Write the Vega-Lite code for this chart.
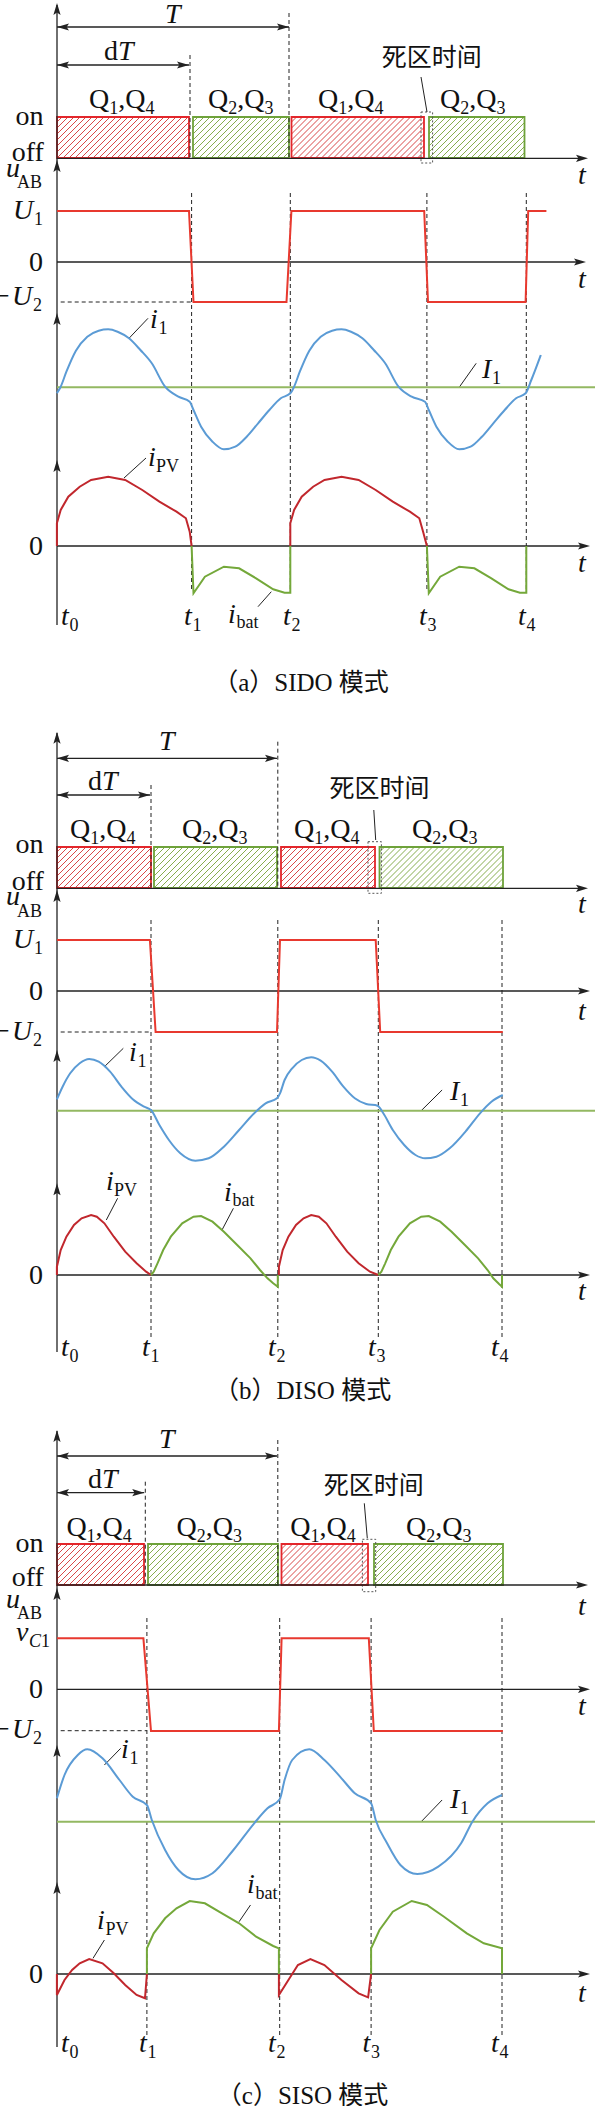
{
"$schema":"https://vega.github.io/schema/vega-lite/v6.json",
"width":595,"height":2106,"autosize":{"type":"none"},"padding":0,"background":"white",
"config":{"view":{"stroke":null}},
"encoding":{
"x":{"field":"x","type":"quantitative","scale":{"domain":[0,595],"nice":false,"zero":false},"axis":null},
"y":{"field":"y","type":"quantitative","scale":{"domain":[0,2106],"nice":false,"zero":false,"reverse":true},"axis":null}},
"datasets":{
"h1":[{"x":77.5,"y":137.5},{"x":83.5,"y":137.5},{"x":89.5,"y":137.5},{"x":95.5,"y":137.5},{"x":101.5,"y":137.5},{"x":107.5,"y":137.5},{"x":113.5,"y":137.5},{"x":119.5,"y":137.5},{"x":125.5,"y":137.5},{"x":131.5,"y":137.5},{"x":137.5,"y":137.5},{"x":143.5,"y":137.5},{"x":149.5,"y":137.5},{"x":155.5,"y":137.5},{"x":161.5,"y":137.5},{"x":167.5,"y":137.5},{"x":173.5,"y":137.5},{"x":179.5,"y":137.5},{"x":185.5,"y":137.5},{"x":191.5,"y":137.5},{"x":197.5,"y":137.5},{"x":203.5,"y":137.5},
{"x":77.5,"y":867.5},{"x":83.5,"y":867.5},{"x":89.5,"y":867.5},{"x":95.5,"y":867.5},{"x":101.5,"y":867.5},{"x":107.5,"y":867.5},{"x":113.5,"y":867.5},{"x":119.5,"y":867.5},{"x":125.5,"y":867.5},{"x":131.5,"y":867.5},{"x":137.5,"y":867.5},{"x":143.5,"y":867.5},{"x":149.5,"y":867.5},{"x":155.5,"y":867.5},{"x":161.5,"y":867.5},{"x":167.5,"y":867.5},
{"x":77.5,"y":1564.5},{"x":83.5,"y":1564.5},{"x":89.5,"y":1564.5},{"x":95.5,"y":1564.5},{"x":101.5,"y":1564.5},{"x":107.5,"y":1564.5},{"x":113.5,"y":1564.5},{"x":119.5,"y":1564.5},{"x":125.5,"y":1564.5},{"x":131.5,"y":1564.5},{"x":137.5,"y":1564.5},{"x":143.5,"y":1564.5},{"x":149.5,"y":1564.5},{"x":155.5,"y":1564.5},{"x":161.5,"y":1564.5}],
"p1":[{"x":57,"y":152,"x2":92,"y2":117},{"x":57,"y":146,"x2":86,"y2":117},{"x":57,"y":140,"x2":80,"y2":117},{"x":57,"y":134,"x2":74,"y2":117},{"x":57,"y":128,"x2":68,"y2":117},{"x":57,"y":122,"x2":62,"y2":117},
{"x":57,"y":882,"x2":92,"y2":847},{"x":57,"y":876,"x2":86,"y2":847},{"x":57,"y":870,"x2":80,"y2":847},{"x":57,"y":864,"x2":74,"y2":847},{"x":57,"y":858,"x2":68,"y2":847},{"x":57,"y":852,"x2":62,"y2":847},
{"x":57,"y":1579,"x2":92,"y2":1544},{"x":57,"y":1573,"x2":86,"y2":1544},{"x":57,"y":1567,"x2":80,"y2":1544},{"x":57,"y":1561,"x2":74,"y2":1544},{"x":57,"y":1555,"x2":68,"y2":1544},{"x":57,"y":1549,"x2":62,"y2":1544}],
"m1":[{"x":189,"x2":600,"y":116,"y2":159},{"x":151,"x2":600,"y":846,"y2":889},{"x":144,"x2":600,"y":1543,"y2":1586}],
"h2":[{"x":213.5,"y":137.5},{"x":219.5,"y":137.5},{"x":225.5,"y":137.5},{"x":231.5,"y":137.5},{"x":237.5,"y":137.5},{"x":243.5,"y":137.5},{"x":249.5,"y":137.5},{"x":255.5,"y":137.5},{"x":261.5,"y":137.5},{"x":267.5,"y":137.5},{"x":273.5,"y":137.5},{"x":279.5,"y":137.5},{"x":285.5,"y":137.5},{"x":291.5,"y":137.5},{"x":297.5,"y":137.5},{"x":303.5,"y":137.5},
{"x":174.5,"y":867.5},{"x":180.5,"y":867.5},{"x":186.5,"y":867.5},{"x":192.5,"y":867.5},{"x":198.5,"y":867.5},{"x":204.5,"y":867.5},{"x":210.5,"y":867.5},{"x":216.5,"y":867.5},{"x":222.5,"y":867.5},{"x":228.5,"y":867.5},{"x":234.5,"y":867.5},{"x":240.5,"y":867.5},{"x":246.5,"y":867.5},{"x":252.5,"y":867.5},{"x":258.5,"y":867.5},{"x":264.5,"y":867.5},{"x":270.5,"y":867.5},{"x":276.5,"y":867.5},{"x":282.5,"y":867.5},{"x":288.5,"y":867.5},{"x":294.5,"y":867.5},
{"x":168.5,"y":1564.5},{"x":174.5,"y":1564.5},{"x":180.5,"y":1564.5},{"x":186.5,"y":1564.5},{"x":192.5,"y":1564.5},{"x":198.5,"y":1564.5},{"x":204.5,"y":1564.5},{"x":210.5,"y":1564.5},{"x":216.5,"y":1564.5},{"x":222.5,"y":1564.5},{"x":228.5,"y":1564.5},{"x":234.5,"y":1564.5},{"x":240.5,"y":1564.5},{"x":246.5,"y":1564.5},{"x":252.5,"y":1564.5},{"x":258.5,"y":1564.5},{"x":264.5,"y":1564.5},{"x":270.5,"y":1564.5},{"x":276.5,"y":1564.5},{"x":282.5,"y":1564.5},{"x":288.5,"y":1564.5},{"x":294.5,"y":1564.5}],
"p2":[{"x":193,"y":152,"x2":228,"y2":117},{"x":193,"y":146,"x2":222,"y2":117},{"x":193,"y":140,"x2":216,"y2":117},{"x":193,"y":134,"x2":210,"y2":117},{"x":193,"y":128,"x2":204,"y2":117},{"x":193,"y":122,"x2":198,"y2":117},
{"x":154,"y":882,"x2":189,"y2":847},{"x":154,"y":876,"x2":183,"y2":847},{"x":154,"y":870,"x2":177,"y2":847},{"x":154,"y":864,"x2":171,"y2":847},{"x":154,"y":858,"x2":165,"y2":847},{"x":154,"y":852,"x2":159,"y2":847},
{"x":148,"y":1579,"x2":183,"y2":1544},{"x":148,"y":1573,"x2":177,"y2":1544},{"x":148,"y":1567,"x2":171,"y2":1544},{"x":148,"y":1561,"x2":165,"y2":1544},{"x":148,"y":1555,"x2":159,"y2":1544},{"x":148,"y":1549,"x2":153,"y2":1544}],
"m2":[{"x":289,"x2":600,"y":116,"y2":159},{"x":277,"x2":600,"y":846,"y2":889},{"x":278,"x2":600,"y":1543,"y2":1586}],
"h3":[{"x":312,"y":137.5},{"x":318,"y":137.5},{"x":324,"y":137.5},{"x":330,"y":137.5},{"x":336,"y":137.5},{"x":342,"y":137.5},{"x":348,"y":137.5},{"x":354,"y":137.5},{"x":360,"y":137.5},{"x":366,"y":137.5},{"x":372,"y":137.5},{"x":378,"y":137.5},{"x":384,"y":137.5},{"x":390,"y":137.5},{"x":396,"y":137.5},{"x":402,"y":137.5},{"x":408,"y":137.5},{"x":414,"y":137.5},{"x":420,"y":137.5},{"x":426,"y":137.5},{"x":432,"y":137.5},{"x":438,"y":137.5},{"x":444,"y":137.5},
{"x":301.5,"y":867.5},{"x":307.5,"y":867.5},{"x":313.5,"y":867.5},{"x":319.5,"y":867.5},{"x":325.5,"y":867.5},{"x":331.5,"y":867.5},{"x":337.5,"y":867.5},{"x":343.5,"y":867.5},{"x":349.5,"y":867.5},{"x":355.5,"y":867.5},{"x":361.5,"y":867.5},{"x":367.5,"y":867.5},{"x":373.5,"y":867.5},{"x":379.5,"y":867.5},{"x":385.5,"y":867.5},{"x":391.5,"y":867.5},
{"x":302,"y":1564.5},{"x":308,"y":1564.5},{"x":314,"y":1564.5},{"x":320,"y":1564.5},{"x":326,"y":1564.5},{"x":332,"y":1564.5},{"x":338,"y":1564.5},{"x":344,"y":1564.5},{"x":350,"y":1564.5},{"x":356,"y":1564.5},{"x":362,"y":1564.5},{"x":368,"y":1564.5},{"x":374,"y":1564.5},{"x":380,"y":1564.5},{"x":386,"y":1564.5}],
"p3":[{"x":291.5,"y":152,"x2":326.5,"y2":117},{"x":291.5,"y":146,"x2":320.5,"y2":117},{"x":291.5,"y":140,"x2":314.5,"y2":117},{"x":291.5,"y":134,"x2":308.5,"y2":117},{"x":291.5,"y":128,"x2":302.5,"y2":117},{"x":291.5,"y":122,"x2":296.5,"y2":117},
{"x":281,"y":882,"x2":316,"y2":847},{"x":281,"y":876,"x2":310,"y2":847},{"x":281,"y":870,"x2":304,"y2":847},{"x":281,"y":864,"x2":298,"y2":847},{"x":281,"y":858,"x2":292,"y2":847},{"x":281,"y":852,"x2":286,"y2":847},
{"x":281.5,"y":1579,"x2":316.5,"y2":1544},{"x":281.5,"y":1573,"x2":310.5,"y2":1544},{"x":281.5,"y":1567,"x2":304.5,"y2":1544},{"x":281.5,"y":1561,"x2":298.5,"y2":1544},{"x":281.5,"y":1555,"x2":292.5,"y2":1544},{"x":281.5,"y":1549,"x2":286.5,"y2":1544}],
"m3":[{"x":424,"x2":600,"y":116,"y2":159},{"x":375,"x2":600,"y":846,"y2":889},{"x":368,"x2":600,"y":1543,"y2":1586}],
"h4":[{"x":449.5,"y":137.5},{"x":455.5,"y":137.5},{"x":461.5,"y":137.5},{"x":467.5,"y":137.5},{"x":473.5,"y":137.5},{"x":479.5,"y":137.5},{"x":485.5,"y":137.5},{"x":491.5,"y":137.5},{"x":497.5,"y":137.5},{"x":503.5,"y":137.5},{"x":509.5,"y":137.5},{"x":515.5,"y":137.5},{"x":521.5,"y":137.5},{"x":527.5,"y":137.5},{"x":533.5,"y":137.5},{"x":539.5,"y":137.5},
{"x":400,"y":867.5},{"x":406,"y":867.5},{"x":412,"y":867.5},{"x":418,"y":867.5},{"x":424,"y":867.5},{"x":430,"y":867.5},{"x":436,"y":867.5},{"x":442,"y":867.5},{"x":448,"y":867.5},{"x":454,"y":867.5},{"x":460,"y":867.5},{"x":466,"y":867.5},{"x":472,"y":867.5},{"x":478,"y":867.5},{"x":484,"y":867.5},{"x":490,"y":867.5},{"x":496,"y":867.5},{"x":502,"y":867.5},{"x":508,"y":867.5},{"x":514,"y":867.5},{"x":520,"y":867.5},
{"x":394.5,"y":1564.5},{"x":400.5,"y":1564.5},{"x":406.5,"y":1564.5},{"x":412.5,"y":1564.5},{"x":418.5,"y":1564.5},{"x":424.5,"y":1564.5},{"x":430.5,"y":1564.5},{"x":436.5,"y":1564.5},{"x":442.5,"y":1564.5},{"x":448.5,"y":1564.5},{"x":454.5,"y":1564.5},{"x":460.5,"y":1564.5},{"x":466.5,"y":1564.5},{"x":472.5,"y":1564.5},{"x":478.5,"y":1564.5},{"x":484.5,"y":1564.5},{"x":490.5,"y":1564.5},{"x":496.5,"y":1564.5},{"x":502.5,"y":1564.5},{"x":508.5,"y":1564.5},{"x":514.5,"y":1564.5},{"x":520.5,"y":1564.5}],
"p4":[{"x":429,"y":152,"x2":464,"y2":117},{"x":429,"y":146,"x2":458,"y2":117},{"x":429,"y":140,"x2":452,"y2":117},{"x":429,"y":134,"x2":446,"y2":117},{"x":429,"y":128,"x2":440,"y2":117},{"x":429,"y":122,"x2":434,"y2":117},
{"x":379.5,"y":882,"x2":414.5,"y2":847},{"x":379.5,"y":876,"x2":408.5,"y2":847},{"x":379.5,"y":870,"x2":402.5,"y2":847},{"x":379.5,"y":864,"x2":396.5,"y2":847},{"x":379.5,"y":858,"x2":390.5,"y2":847},{"x":379.5,"y":852,"x2":384.5,"y2":847},
{"x":374,"y":1579,"x2":409,"y2":1544},{"x":374,"y":1573,"x2":403,"y2":1544},{"x":374,"y":1567,"x2":397,"y2":1544},{"x":374,"y":1561,"x2":391,"y2":1544},{"x":374,"y":1555,"x2":385,"y2":1544},{"x":374,"y":1549,"x2":379,"y2":1544}],
"m4":[{"x":524.5,"x2":600,"y":116,"y2":159},{"x":503,"x2":600,"y":846,"y2":889},{"x":503,"x2":600,"y":1543,"y2":1586}],
"rects":[{"k":"r","x":57,"x2":189,"y":117,"y2":158},{"k":"g","x":193,"x2":289,"y":117,"y2":158},{"k":"r","x":291.5,"x2":424,"y":117,"y2":158},{"k":"g","x":429,"x2":524.5,"y":117,"y2":158},
{"k":"r","x":57,"x2":151,"y":847,"y2":888},{"k":"g","x":154,"x2":277,"y":847,"y2":888},{"k":"r","x":281,"x2":375,"y":847,"y2":888},{"k":"g","x":379.5,"x2":503,"y":847,"y2":888},
{"k":"r","x":57,"x2":144,"y":1544,"y2":1585},{"k":"g","x":148,"x2":278,"y":1544,"y2":1585},{"k":"r","x":281.5,"x2":368,"y":1544,"y2":1585},{"k":"g","x":374,"x2":503,"y":1544,"y2":1585}],
"brk":[{"x":421,"y":112,"x2":432.6,"y2":163},{"x":368,"y":841.7,"x2":381.4,"y2":893.3},{"x":362.4,"y":1539.3,"x2":375.7,"y2":1591.7}],
"dash":[{"x":289,"y":13,"x2":289,"y2":158},{"x":190,"y":55,"x2":190,"y2":158},{"x":191.6,"y":193,"x2":191.6,"y2":592},{"x":290.3,"y":193,"x2":290.3,"y2":592},{"x":426.9,"y":193,"x2":426.9,"y2":592},{"x":526.3,"y":193,"x2":526.3,"y2":592},{"x":60.7,"y":302,"x2":191.6,"y2":302},
{"x":277.8,"y":741.7,"x2":277.8,"y2":888},{"x":151,"y":785,"x2":151,"y2":888},{"x":151,"y":920,"x2":151,"y2":1340},{"x":277.8,"y":920,"x2":277.8,"y2":1340},{"x":378.3,"y":920,"x2":378.3,"y2":1340},{"x":502,"y":920,"x2":502,"y2":1340},{"x":60.7,"y":1032,"x2":151,"y2":1032},
{"x":277.8,"y":1440,"x2":277.8,"y2":1585},{"x":145.3,"y":1481.7,"x2":145.3,"y2":1585},{"x":146.9,"y":1618,"x2":146.9,"y2":2037},{"x":279.7,"y":1618,"x2":279.7,"y2":2037},{"x":371.1,"y":1618,"x2":371.1,"y2":2037},{"x":502,"y":1618,"x2":502,"y2":2037},{"x":60.7,"y":1730.7,"x2":146.9,"y2":1730.7}],
"ax":[{"x":57,"y":5,"x2":57,"y2":625},{"x":57,"y":158.3,"x2":583,"y2":158.3},{"x":57,"y":262,"x2":581,"y2":262},{"x":57,"y":546,"x2":585,"y2":546},{"x":57,"y":27,"x2":289,"y2":27},{"x":57,"y":65,"x2":189,"y2":65},
{"x":57,"y":733,"x2":57,"y2":1352},{"x":57,"y":888.3,"x2":583,"y2":888.3},{"x":57,"y":991,"x2":585,"y2":991},{"x":57,"y":1275,"x2":585,"y2":1275},{"x":57,"y":758.3,"x2":277,"y2":758.3},{"x":57,"y":795,"x2":150,"y2":795},
{"x":57,"y":1431,"x2":57,"y2":2047},{"x":57,"y":1585,"x2":583,"y2":1585},{"x":57,"y":1689.3,"x2":585,"y2":1689.3},{"x":57,"y":1974,"x2":585,"y2":1974},{"x":57,"y":1456,"x2":277,"y2":1456},{"x":57,"y":1492.7,"x2":144.2,"y2":1492.7}],
"ld":[{"x":421,"y":77,"x2":427,"y2":112},{"x":129,"y":338.3,"x2":148,"y2":318.3},{"x":459.2,"y":387.3,"x2":476.2,"y2":363.3},{"x":124,"y":478,"x2":146,"y2":458},{"x":258,"y":606.7,"x2":271.3,"y2":591.7},
{"x":373.8,"y":810,"x2":375.7,"y2":840},{"x":104.4,"y":1066.7,"x2":123.3,"y2":1048.3},{"x":421.2,"y":1110.7,"x2":442.1,"y2":1090},{"x":106.3,"y":1220,"x2":117.6,"y2":1198.3},{"x":222,"y":1230,"x2":233.4,"y2":1208.3},
{"x":364.3,"y":1503.3,"x2":367.3,"y2":1538.3},{"x":104.4,"y":1765,"x2":120.7,"y2":1748.3},{"x":421.2,"y":1821.7,"x2":442.1,"y2":1800},{"x":93,"y":1958.3,"x2":104.4,"y2":1940},{"x":239.1,"y":1921.7,"x2":250.5,"y2":1905}],
"au":[{"x":57,"y":9},{"x":57,"y":166},{"x":57,"y":319},{"x":57,"y":466},{"x":57,"y":737.7},{"x":57,"y":896},{"x":57,"y":1056},{"x":57,"y":1189.3},{"x":57,"y":1436},{"x":57,"y":1594},{"x":57,"y":1751},{"x":57,"y":1888}],
"ar":[{"x":582,"y":158.3},{"x":580,"y":262},{"x":584,"y":546},{"x":283,"y":27},{"x":183,"y":65},{"x":582,"y":888.3},{"x":584,"y":991},{"x":584,"y":1275},{"x":271,"y":758.3},{"x":144,"y":795},{"x":582,"y":1585},{"x":584,"y":1689.3},{"x":584,"y":1974},{"x":271,"y":1456},{"x":138.2,"y":1492.7}],
"al":[{"x":63,"y":27},{"x":63,"y":65},{"x":63,"y":758.3},{"x":63,"y":795},{"x":63,"y":1456},{"x":63,"y":1492.7}],
"uab":[{"g":"a","x":57,"y":211},{"g":"a","x":189,"y":211},{"g":"a","x":193.5,"y":302},{"g":"a","x":286.5,"y":302},{"g":"a","x":291.4,"y":211},{"g":"a","x":424.2,"y":211},{"g":"a","x":428,"y":302},{"g":"a","x":525.6,"y":302},{"g":"a","x":528.2,"y":211},{"g":"a","x":546.4,"y":211},
{"g":"b","x":57,"y":940},{"g":"b","x":149.9,"y":940},{"g":"b","x":155.6,"y":1032},{"g":"b","x":277,"y":1032},{"g":"b","x":280,"y":940},{"g":"b","x":375.7,"y":940},{"g":"b","x":380.2,"y":1032},{"g":"b","x":502.8,"y":1032},
{"g":"c","x":57,"y":1638.3},{"g":"c","x":143.4,"y":1638.3},{"g":"c","x":151,"y":1731},{"g":"c","x":278.9,"y":1731},{"g":"c","x":281.6,"y":1638.3},{"g":"c","x":368.8,"y":1638.3},{"g":"c","x":373.8,"y":1731},{"g":"c","x":502.8,"y":1731}],
"ibig":[{"g":"a","x":57,"y":387.3},{"g":"a","x":595,"y":387.3},{"g":"b","x":57,"y":1110.7},{"g":"b","x":595,"y":1110.7},{"g":"c","x":57,"y":1821.7},{"g":"c","x":595,"y":1821.7}],
"i1":[{"g":"a","x":56.9,"y":393.3},{"g":"a","x":60.7,"y":386.7},{"g":"a","x":66.4,"y":371.7},{"g":"a","x":75.9,"y":350.7},{"g":"a","x":87.3,"y":336.7},{"g":"a","x":98.7,"y":330.7},{"g":"a","x":108.2,"y":329.3},{"g":"a","x":117.6,"y":331.7},{"g":"a","x":129,"y":338.3},{"g":"a","x":140.4,"y":350},{"g":"a","x":151.8,"y":363.3},{"g":"a","x":165.1,"y":386.7},{"g":"a","x":178.4,"y":396.7},{"g":"a","x":189.7,"y":401.7},{"g":"a","x":193.5,"y":410},{"g":"a","x":201.1,"y":426.7},{"g":"a","x":212.5,"y":441.7},{"g":"a","x":223.9,"y":449.3},{"g":"a","x":235.3,"y":446.7},{"g":"a","x":246.7,"y":436.7},{"g":"a","x":258.1,"y":423.3},{"g":"a","x":269.4,"y":410},{"g":"a","x":280.8,"y":398.3},{"g":"a","x":290.3,"y":393.3},{"g":"a","x":294.1,"y":386.7},{"g":"a","x":299.8,"y":371.7},{"g":"a","x":309.3,"y":350.7},{"g":"a","x":320.7,"y":336.7},{"g":"a","x":332.1,"y":330.7},{"g":"a","x":341.5,"y":329.3},{"g":"a","x":351,"y":331.7},{"g":"a","x":362.4,"y":338.3},{"g":"a","x":373.8,"y":350},{"g":"a","x":385.2,"y":363.3},{"g":"a","x":398.5,"y":386.7},{"g":"a","x":411.7,"y":396.7},{"g":"a","x":425,"y":401.7},{"g":"a","x":428.8,"y":410},{"g":"a","x":436.4,"y":426.7},{"g":"a","x":447.8,"y":441.7},{"g":"a","x":459.2,"y":449.3},{"g":"a","x":470.6,"y":446.7},{"g":"a","x":481.9,"y":436.7},{"g":"a","x":493.3,"y":423.3},{"g":"a","x":504.7,"y":410},{"g":"a","x":516.1,"y":398.3},{"g":"a","x":525.6,"y":393.3},{"g":"a","x":531.3,"y":380},{"g":"a","x":540.8,"y":355},
{"g":"b","x":56.9,"y":1099.3},{"g":"b","x":62.6,"y":1086.7},{"g":"b","x":70.2,"y":1073.3},{"g":"b","x":79.7,"y":1063.3},{"g":"b","x":89.2,"y":1059},{"g":"b","x":98.7,"y":1061.7},{"g":"b","x":110.1,"y":1071.7},{"g":"b","x":121.4,"y":1086.7},{"g":"b","x":132.8,"y":1099.3},{"g":"b","x":144.2,"y":1106.7},{"g":"b","x":151,"y":1110},{"g":"b","x":159.4,"y":1125},{"g":"b","x":168.9,"y":1140},{"g":"b","x":180.3,"y":1153.3},{"g":"b","x":195.4,"y":1160.7},{"g":"b","x":208.7,"y":1158.3},{"g":"b","x":223.9,"y":1146.7},{"g":"b","x":239.1,"y":1130},{"g":"b","x":254.2,"y":1113.3},{"g":"b","x":265.6,"y":1103.3},{"g":"b","x":277,"y":1098.3},{"g":"b","x":280,"y":1093.3},{"g":"b","x":284.6,"y":1080},{"g":"b","x":292.2,"y":1068.3},{"g":"b","x":301.7,"y":1060},{"g":"b","x":311.2,"y":1057.3},{"g":"b","x":320.7,"y":1060.7},{"g":"b","x":332.1,"y":1071.7},{"g":"b","x":343.4,"y":1086.7},{"g":"b","x":354.8,"y":1098.3},{"g":"b","x":366.2,"y":1104},{"g":"b","x":377.6,"y":1105.7},{"g":"b","x":383.3,"y":1113.3},{"g":"b","x":392.8,"y":1130},{"g":"b","x":404.2,"y":1145},{"g":"b","x":415.5,"y":1155},{"g":"b","x":425,"y":1158.3},{"g":"b","x":436.4,"y":1156.7},{"g":"b","x":449.7,"y":1148.3},{"g":"b","x":466.8,"y":1130},{"g":"b","x":480,"y":1113.3},{"g":"b","x":491.4,"y":1101.7},{"g":"b","x":502.8,"y":1095},
{"g":"c","x":56.9,"y":1798.3},{"g":"c","x":64.5,"y":1775},{"g":"c","x":77.8,"y":1755},{"g":"c","x":87.3,"y":1749.3},{"g":"c","x":102.5,"y":1758.3},{"g":"c","x":119.5,"y":1780},{"g":"c","x":132.8,"y":1796.7},{"g":"c","x":146.9,"y":1805},{"g":"c","x":151.8,"y":1820},{"g":"c","x":165.1,"y":1850},{"g":"c","x":178.4,"y":1870},{"g":"c","x":195.4,"y":1879.3},{"g":"c","x":212.5,"y":1873.3},{"g":"c","x":233.4,"y":1850},{"g":"c","x":254.2,"y":1823.3},{"g":"c","x":267.5,"y":1808.3},{"g":"c","x":279.7,"y":1799.3},{"g":"c","x":284.6,"y":1780},{"g":"c","x":292.2,"y":1760},{"g":"c","x":309.3,"y":1749.3},{"g":"c","x":324.4,"y":1760},{"g":"c","x":341.5,"y":1778.3},{"g":"c","x":354.8,"y":1793.3},{"g":"c","x":371.1,"y":1803.3},{"g":"c","x":375.7,"y":1820},{"g":"c","x":387.1,"y":1843.3},{"g":"c","x":400.4,"y":1865},{"g":"c","x":417.4,"y":1874},{"g":"c","x":438.3,"y":1866.7},{"g":"c","x":461.1,"y":1843.3},{"g":"c","x":472.4,"y":1821.7},{"g":"c","x":487.6,"y":1803.3},{"g":"c","x":502,"y":1795}],
"ipv":[{"g":"a1","x":56.9,"y":546},{"g":"a1","x":56.9,"y":523.3},{"g":"a1","x":60.7,"y":510},{"g":"a1","x":68.3,"y":496.7},{"g":"a1","x":79.7,"y":486.7},{"g":"a1","x":91.1,"y":480},{"g":"a1","x":108.2,"y":476.7},{"g":"a1","x":125.2,"y":480},{"g":"a1","x":142.3,"y":490},{"g":"a1","x":159.4,"y":501.7},{"g":"a1","x":176.5,"y":511.7},{"g":"a1","x":185.9,"y":518.3},{"g":"a1","x":189.7,"y":531.7},{"g":"a1","x":191.6,"y":546},
{"g":"a2","x":290.3,"y":546},{"g":"a2","x":290.3,"y":523.3},{"g":"a2","x":294.1,"y":510},{"g":"a2","x":301.7,"y":496.7},{"g":"a2","x":313.1,"y":486.7},{"g":"a2","x":324.5,"y":480},{"g":"a2","x":341.6,"y":476.7},{"g":"a2","x":358.6,"y":480},{"g":"a2","x":375.7,"y":490},{"g":"a2","x":392.8,"y":501.7},{"g":"a2","x":409.9,"y":511.7},{"g":"a2","x":419.3,"y":518.3},{"g":"a2","x":423.1,"y":531.7},{"g":"a2","x":426.9,"y":546},
{"g":"b1","x":56.9,"y":1275},{"g":"b1","x":56.9,"y":1266.7},{"g":"b1","x":60.7,"y":1250},{"g":"b1","x":66.4,"y":1236.7},{"g":"b1","x":74,"y":1225},{"g":"b1","x":81.6,"y":1218.3},{"g":"b1","x":91.1,"y":1215},{"g":"b1","x":96.8,"y":1216.7},{"g":"b1","x":104.4,"y":1223.3},{"g":"b1","x":113.8,"y":1236.7},{"g":"b1","x":125.2,"y":1251.7},{"g":"b1","x":136.6,"y":1263.3},{"g":"b1","x":146.1,"y":1271.7},{"g":"b1","x":151,"y":1275},
{"g":"b2","x":278.9,"y":1275},{"g":"b2","x":278.9,"y":1266.7},{"g":"b2","x":282.7,"y":1250},{"g":"b2","x":288.4,"y":1236.7},{"g":"b2","x":296,"y":1225},{"g":"b2","x":303.6,"y":1218.3},{"g":"b2","x":311.2,"y":1215},{"g":"b2","x":318.8,"y":1216.7},{"g":"b2","x":326.4,"y":1223.3},{"g":"b2","x":335.8,"y":1236.7},{"g":"b2","x":347.2,"y":1251.7},{"g":"b2","x":358.6,"y":1263.3},{"g":"b2","x":370,"y":1271.7},{"g":"b2","x":378.3,"y":1275},
{"g":"c1","x":56.9,"y":1974},{"g":"c1","x":56.9,"y":1995},{"g":"c1","x":64.5,"y":1980},{"g":"c1","x":72.1,"y":1970},{"g":"c1","x":79.7,"y":1963.3},{"g":"c1","x":89.2,"y":1959},{"g":"c1","x":102.5,"y":1963.3},{"g":"c1","x":113.8,"y":1973.3},{"g":"c1","x":125.2,"y":1985},{"g":"c1","x":136.6,"y":1995},{"g":"c1","x":145,"y":1998.3},{"g":"c1","x":146.9,"y":1974},
{"g":"c2","x":278.9,"y":1974},{"g":"c2","x":278.9,"y":1995},{"g":"c2","x":288.4,"y":1980},{"g":"c2","x":297.9,"y":1965},{"g":"c2","x":310.4,"y":1959},{"g":"c2","x":324.4,"y":1965},{"g":"c2","x":341.5,"y":1980},{"g":"c2","x":358.6,"y":1993.3},{"g":"c2","x":368.1,"y":1997.3},{"g":"c2","x":371.1,"y":1974}],
"ibat":[{"g":"a1","x":191.6,"y":546},{"g":"a1","x":193.5,"y":593.3},{"g":"a1","x":204.9,"y":576.7},{"g":"a1","x":223.9,"y":566.7},{"g":"a1","x":239.1,"y":568.3},{"g":"a1","x":256.1,"y":578.3},{"g":"a1","x":273.2,"y":589.3},{"g":"a1","x":284.6,"y":592.7},{"g":"a1","x":290.3,"y":592.7},{"g":"a1","x":290.3,"y":546},
{"g":"a2","x":426.9,"y":546},{"g":"a2","x":428.8,"y":593.3},{"g":"a2","x":440.2,"y":576.7},{"g":"a2","x":459.2,"y":566.7},{"g":"a2","x":474.4,"y":568.3},{"g":"a2","x":491.4,"y":578.3},{"g":"a2","x":508.5,"y":589.3},{"g":"a2","x":519.9,"y":592.7},{"g":"a2","x":526.3,"y":592.7},{"g":"a2","x":526.3,"y":546},
{"g":"b1","x":151,"y":1275},{"g":"b1","x":153.7,"y":1271.7},{"g":"b1","x":157.5,"y":1263.3},{"g":"b1","x":163.2,"y":1250},{"g":"b1","x":170.8,"y":1236.7},{"g":"b1","x":182.2,"y":1223.3},{"g":"b1","x":193.5,"y":1216.7},{"g":"b1","x":201.1,"y":1216},{"g":"b1","x":212.5,"y":1221.7},{"g":"b1","x":223.9,"y":1231.7},{"g":"b1","x":237.2,"y":1245},{"g":"b1","x":250.5,"y":1258.3},{"g":"b1","x":260,"y":1270},{"g":"b1","x":267.5,"y":1278.3},{"g":"b1","x":273.2,"y":1283.3},{"g":"b1","x":277.8,"y":1286.7},{"g":"b1","x":277.8,"y":1275},
{"g":"b2","x":378.3,"y":1275},{"g":"b2","x":381.4,"y":1271.7},{"g":"b2","x":385.2,"y":1263.3},{"g":"b2","x":390.8,"y":1250},{"g":"b2","x":398.5,"y":1236.7},{"g":"b2","x":409.9,"y":1223.3},{"g":"b2","x":421.2,"y":1216.7},{"g":"b2","x":428.8,"y":1216},{"g":"b2","x":440.2,"y":1221.7},{"g":"b2","x":451.6,"y":1231.7},{"g":"b2","x":464.9,"y":1245},{"g":"b2","x":478.1,"y":1258.3},{"g":"b2","x":487.6,"y":1270},{"g":"b2","x":493.3,"y":1278.3},{"g":"b2","x":499.1,"y":1284},{"g":"b2","x":502,"y":1286.7},{"g":"b2","x":502,"y":1275},
{"g":"c1","x":146.9,"y":1974},{"g":"c1","x":146.9,"y":1948.3},{"g":"c1","x":153.7,"y":1933.3},{"g":"c1","x":165.1,"y":1918.3},{"g":"c1","x":176.5,"y":1908.3},{"g":"c1","x":189.7,"y":1901},{"g":"c1","x":204.9,"y":1903.3},{"g":"c1","x":222,"y":1913.3},{"g":"c1","x":239.1,"y":1923.3},{"g":"c1","x":256.1,"y":1936.7},{"g":"c1","x":273.2,"y":1946},{"g":"c1","x":278.9,"y":1948.3},{"g":"c1","x":278.9,"y":1974},
{"g":"c2","x":371.1,"y":1974},{"g":"c2","x":371.1,"y":1948.3},{"g":"c2","x":379.5,"y":1930},{"g":"c2","x":392.8,"y":1911.7},{"g":"c2","x":411.7,"y":1901},{"g":"c2","x":426.9,"y":1905},{"g":"c2","x":444,"y":1916.7},{"g":"c2","x":466.8,"y":1933.3},{"g":"c2","x":483.8,"y":1943.3},{"g":"c2","x":502,"y":1948.3},{"g":"c2","x":502,"y":1974}],
"ti":[{"x":165,"y":23,"t":"T"},{"x":118,"y":60,"t":"T"},{"x":578,"y":184,"t":"t"},{"x":6,"y":177,"t":"u"},{"x":13,"y":219,"t":"U"},{"x":578,"y":288,"t":"t"},{"x":12,"y":305,"t":"U"},{"x":150,"y":328,"t":"i"},{"x":482,"y":378,"t":"I"},{"x":148,"y":466,"t":"i"},{"x":228,"y":623,"t":"i"},{"x":578,"y":572,"t":"t"},
{"x":61,"y":625,"t":"t"},{"x":184,"y":625,"t":"t"},{"x":283,"y":625,"t":"t"},{"x":419,"y":625,"t":"t"},{"x":518,"y":625,"t":"t"},
{"x":159,"y":750,"t":"T"},{"x":102,"y":790,"t":"T"},{"x":578,"y":913,"t":"t"},{"x":6,"y":905,"t":"u"},{"x":13,"y":948,"t":"U"},{"x":578,"y":1020,"t":"t"},{"x":12,"y":1040,"t":"U"},{"x":129,"y":1061,"t":"i"},{"x":450,"y":1100,"t":"I"},{"x":106,"y":1190,"t":"i"},{"x":224,"y":1201,"t":"i"},{"x":578,"y":1300,"t":"t"},
{"x":61,"y":1356,"t":"t"},{"x":142,"y":1356,"t":"t"},{"x":268,"y":1356,"t":"t"},{"x":368,"y":1356,"t":"t"},{"x":491,"y":1356,"t":"t"},
{"x":159,"y":1448,"t":"T"},{"x":102,"y":1488,"t":"T"},{"x":578,"y":1615,"t":"t"},{"x":6,"y":1608,"t":"u"},{"x":16,"y":1641,"t":"v"},{"x":578,"y":1715,"t":"t"},{"x":12,"y":1738,"t":"U"},{"x":121,"y":1758,"t":"i"},{"x":450,"y":1808,"t":"I"},{"x":247,"y":1893,"t":"i"},{"x":97,"y":1929,"t":"i"},{"x":578,"y":2002,"t":"t"},
{"x":61,"y":2052,"t":"t"},{"x":139,"y":2052,"t":"t"},{"x":268,"y":2052,"t":"t"},{"x":362.5,"y":2052,"t":"t"},{"x":491,"y":2052,"t":"t"}],
"tu":[{"x":104,"y":60,"t":"d"},{"x":15.5,"y":125,"t":"on"},{"x":11.7,"y":161,"t":"off"},
{"x":89,"y":108,"t":"Q"},{"x":118.2,"y":108,"t":",Q"},{"x":208,"y":108,"t":"Q"},{"x":237.2,"y":108,"t":",Q"},{"x":318,"y":108,"t":"Q"},{"x":347.2,"y":108,"t":",Q"},{"x":440,"y":108,"t":"Q"},{"x":469.2,"y":108,"t":",Q"},
{"x":29,"y":271,"t":"0"},{"x":-6,"y":305,"t":"−"},{"x":29,"y":555,"t":"0"},
{"x":88,"y":790,"t":"d"},{"x":15.5,"y":853,"t":"on"},{"x":11.7,"y":890,"t":"off"},
{"x":70,"y":838,"t":"Q"},{"x":99.2,"y":838,"t":",Q"},{"x":182,"y":838,"t":"Q"},{"x":211.2,"y":838,"t":",Q"},{"x":294,"y":838,"t":"Q"},{"x":323.2,"y":838,"t":",Q"},{"x":412,"y":838,"t":"Q"},{"x":441.2,"y":838,"t":",Q"},
{"x":29,"y":1000,"t":"0"},{"x":-6,"y":1040,"t":"−"},{"x":29,"y":1284,"t":"0"},
{"x":88,"y":1488,"t":"d"},{"x":15.5,"y":1552,"t":"on"},{"x":11.7,"y":1586,"t":"off"},
{"x":66.4,"y":1536,"t":"Q"},{"x":95.6,"y":1536,"t":",Q"},{"x":176.5,"y":1536,"t":"Q"},{"x":205.7,"y":1536,"t":",Q"},{"x":290.3,"y":1536,"t":"Q"},{"x":319.5,"y":1536,"t":",Q"},{"x":406,"y":1536,"t":"Q"},{"x":435.2,"y":1536,"t":",Q"},
{"x":29,"y":1698,"t":"0"},{"x":-6,"y":1738,"t":"−"},{"x":29,"y":1983,"t":"0"}],
"ts":[{"x":17,"y":188,"t":"AB"},{"x":34,"y":225,"t":"1"},{"x":33,"y":311,"t":"2"},{"x":158.5,"y":334,"t":"1"},{"x":492,"y":384,"t":"1"},{"x":156,"y":472,"t":"PV"},{"x":236.5,"y":628,"t":"bat"},
{"x":69.5,"y":631,"t":"0"},{"x":192.5,"y":631,"t":"1"},{"x":291.5,"y":631,"t":"2"},{"x":427.5,"y":631,"t":"3"},{"x":526.5,"y":631,"t":"4"},
{"x":109.2,"y":114,"t":"1"},{"x":145.4,"y":114,"t":"4"},{"x":228.2,"y":114,"t":"2"},{"x":264.4,"y":114,"t":"3"},{"x":338.2,"y":114,"t":"1"},{"x":374.4,"y":114,"t":"4"},{"x":460.2,"y":114,"t":"2"},{"x":496.4,"y":114,"t":"3"},
{"x":17,"y":917,"t":"AB"},{"x":34,"y":954,"t":"1"},{"x":33,"y":1046,"t":"2"},{"x":137.5,"y":1067,"t":"1"},{"x":460,"y":1106,"t":"1"},{"x":114,"y":1196,"t":"PV"},{"x":232.5,"y":1206,"t":"bat"},
{"x":69.5,"y":1362,"t":"0"},{"x":150.5,"y":1362,"t":"1"},{"x":276.5,"y":1362,"t":"2"},{"x":376.5,"y":1362,"t":"3"},{"x":499.5,"y":1362,"t":"4"},
{"x":90.2,"y":844,"t":"1"},{"x":126.4,"y":844,"t":"4"},{"x":202.2,"y":844,"t":"2"},{"x":238.4,"y":844,"t":"3"},{"x":314.2,"y":844,"t":"1"},{"x":350.4,"y":844,"t":"4"},{"x":432.2,"y":844,"t":"2"},{"x":468.4,"y":844,"t":"3"},
{"x":17,"y":1619,"t":"AB"},{"x":41,"y":1647,"t":"1"},{"x":33,"y":1744,"t":"2"},{"x":129.5,"y":1764,"t":"1"},{"x":460,"y":1814,"t":"1"},{"x":255.5,"y":1899,"t":"bat"},{"x":105.5,"y":1935,"t":"PV"},
{"x":69.5,"y":2058,"t":"0"},{"x":147.5,"y":2058,"t":"1"},{"x":276.5,"y":2058,"t":"2"},{"x":371,"y":2058,"t":"3"},{"x":499.5,"y":2058,"t":"4"},
{"x":86.6,"y":1542,"t":"1"},{"x":122.8,"y":1542,"t":"4"},{"x":196.7,"y":1542,"t":"2"},{"x":232.9,"y":1542,"t":"3"},{"x":310.5,"y":1542,"t":"1"},{"x":346.7,"y":1542,"t":"4"},{"x":426.2,"y":1542,"t":"2"},{"x":462.4,"y":1542,"t":"3"}],
"tsi":[{"x":29,"y":1647,"t":"C"}],
"tc":[{"x":431.7,"y":57.5,"t":"死区时间"},{"x":379.5,"y":789,"t":"死区时间"},{"x":373.8,"y":1486,"t":"死区时间"}],
"cap":[{"x":301,"y":683,"t":"（a）SIDO 模式"},{"x":302.6,"y":1391,"t":"（b）DISO 模式"},{"x":302.6,"y":2096,"t":"（c）SISO 模式"}]
},
"layer":[
{"data":{"name":"h1"},"mark":{"type":"point","shape":"M-1,1L1,-1","size":1681,"filled":false,"strokeWidth":1,"color":"#d94848","opacity":1}},
{"data":{"name":"p1"},"mark":{"type":"rule","strokeWidth":1,"color":"#d94848"},"encoding":{"x2":{"field":"x2"},"y2":{"field":"y2"}}},
{"data":{"name":"m1"},"mark":{"type":"rect","color":"white","strokeWidth":0},"encoding":{"x2":{"field":"x2"},"y2":{"field":"y2"}}},
{"data":{"name":"h2"},"mark":{"type":"point","shape":"M-1,1L1,-1","size":1681,"filled":false,"strokeWidth":1,"color":"#86ad4e","opacity":1}},
{"data":{"name":"p2"},"mark":{"type":"rule","strokeWidth":1,"color":"#86ad4e"},"encoding":{"x2":{"field":"x2"},"y2":{"field":"y2"}}},
{"data":{"name":"m2"},"mark":{"type":"rect","color":"white","strokeWidth":0},"encoding":{"x2":{"field":"x2"},"y2":{"field":"y2"}}},
{"data":{"name":"h3"},"mark":{"type":"point","shape":"M-1,1L1,-1","size":1681,"filled":false,"strokeWidth":1,"color":"#d94848","opacity":1}},
{"data":{"name":"p3"},"mark":{"type":"rule","strokeWidth":1,"color":"#d94848"},"encoding":{"x2":{"field":"x2"},"y2":{"field":"y2"}}},
{"data":{"name":"m3"},"mark":{"type":"rect","color":"white","strokeWidth":0},"encoding":{"x2":{"field":"x2"},"y2":{"field":"y2"}}},
{"data":{"name":"h4"},"mark":{"type":"point","shape":"M-1,1L1,-1","size":1681,"filled":false,"strokeWidth":1,"color":"#86ad4e","opacity":1}},
{"data":{"name":"p4"},"mark":{"type":"rule","strokeWidth":1,"color":"#86ad4e"},"encoding":{"x2":{"field":"x2"},"y2":{"field":"y2"}}},
{"data":{"name":"m4"},"mark":{"type":"rect","color":"white","strokeWidth":0},"encoding":{"x2":{"field":"x2"},"y2":{"field":"y2"}}},
{"data":{"name":"rects"},"mark":{"type":"rect","filled":false,"strokeWidth":1.8,"opacity":1},"encoding":{"x2":{"field":"x2"},"y2":{"field":"y2"},"color":{"field":"k","type":"nominal","scale":{"domain":["r","g"],"range":["#e3262b","#6ea23a"]},"legend":null}}},
{"data":{"name":"brk"},"mark":{"type":"rect","filled":false,"stroke":"#555555","strokeWidth":1,"strokeDash":[2,2],"opacity":1},"encoding":{"x2":{"field":"x2"},"y2":{"field":"y2"}}},
{"data":{"name":"dash"},"mark":{"type":"rule","color":"#222222","strokeWidth":1,"strokeDash":[4,3]},"encoding":{"x2":{"field":"x2"},"y2":{"field":"y2"}}},
{"data":{"name":"ax"},"mark":{"type":"rule","color":"#222222","strokeWidth":1.3},"encoding":{"x2":{"field":"x2"},"y2":{"field":"y2"}}},
{"data":{"name":"ld"},"mark":{"type":"rule","color":"#222222","strokeWidth":1},"encoding":{"x2":{"field":"x2"},"y2":{"field":"y2"}}},
{"data":{"name":"au"},"mark":{"type":"point","shape":"M0,-1L0.6,1L0,0.6L-0.6,1Z","size":144,"filled":true,"color":"#222222","opacity":1}},
{"data":{"name":"ar"},"mark":{"type":"point","shape":"M1,0L-1,0.6L-0.6,0L-1,-0.6Z","size":144,"filled":true,"color":"#222222","opacity":1}},
{"data":{"name":"al"},"mark":{"type":"point","shape":"M-1,0L1,0.6L0.6,0L1,-0.6Z","size":144,"filled":true,"color":"#222222","opacity":1}},
{"data":{"name":"uab"},"mark":{"type":"line","color":"#e8392f","strokeWidth":2},"encoding":{"detail":{"field":"g"},"order":{"value":null}}},
{"data":{"name":"ibig"},"mark":{"type":"line","color":"#93b862","strokeWidth":2},"encoding":{"detail":{"field":"g"},"order":{"value":null}}},
{"data":{"name":"i1"},"mark":{"type":"line","color":"#5b9bd5","strokeWidth":2,"interpolate":"monotone"},"encoding":{"detail":{"field":"g"},"order":{"value":null}}},
{"data":{"name":"ipv"},"mark":{"type":"line","color":"#c1272d","strokeWidth":2},"encoding":{"detail":{"field":"g"},"order":{"value":null}}},
{"data":{"name":"ibat"},"mark":{"type":"line","color":"#74a83a","strokeWidth":2},"encoding":{"detail":{"field":"g"},"order":{"value":null}}},
{"data":{"name":"ti"},"mark":{"type":"text","font":"Liberation Serif","fontStyle":"italic","fontSize":28,"align":"left","baseline":"alphabetic","color":"#111111"},"encoding":{"text":{"field":"t"}}},
{"data":{"name":"tu"},"mark":{"type":"text","font":"Liberation Serif","fontSize":28,"align":"left","baseline":"alphabetic","color":"#111111"},"encoding":{"text":{"field":"t"}}},
{"data":{"name":"ts"},"mark":{"type":"text","font":"Liberation Serif","fontSize":18,"align":"left","baseline":"alphabetic","color":"#111111"},"encoding":{"text":{"field":"t"}}},
{"data":{"name":"tsi"},"mark":{"type":"text","font":"Liberation Serif","fontStyle":"italic","fontSize":18,"align":"left","baseline":"alphabetic","color":"#111111"},"encoding":{"text":{"field":"t"}}},
{"data":{"name":"tc"},"mark":{"type":"text","font":"Noto Sans CJK SC","fontSize":25,"align":"center","baseline":"middle","color":"#111111"},"encoding":{"text":{"field":"t"}}},
{"data":{"name":"cap"},"mark":{"type":"text","font":"Liberation Serif, Noto Sans CJK SC","fontSize":25,"align":"center","baseline":"middle","color":"#111111"},"encoding":{"text":{"field":"t"}}}
]
}
